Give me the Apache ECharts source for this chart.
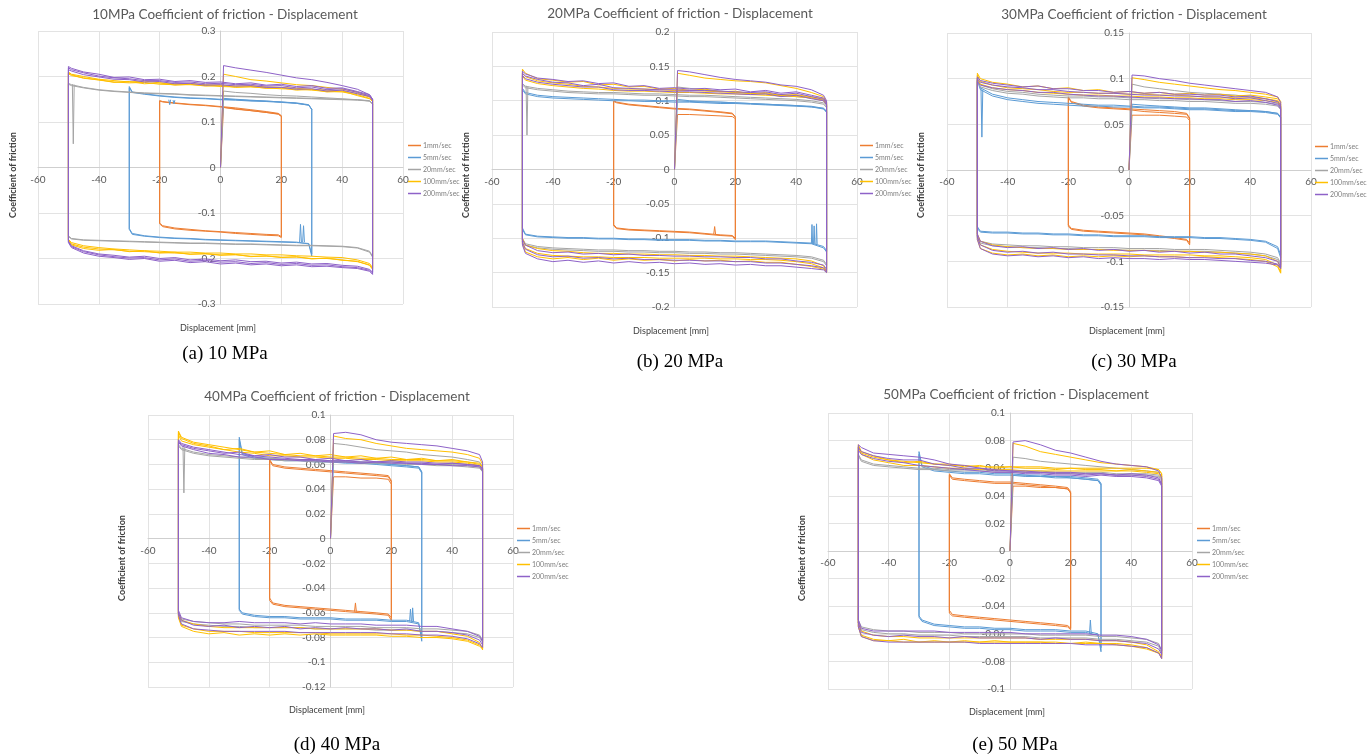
<!DOCTYPE html>
<html>
<head>
<meta charset="utf-8">
<script src="https://cdn.jsdelivr.net/npm/echarts/dist/echarts.min.js"></script>
<style>
  html, body { margin: 0; padding: 0; background: #ffffff; }
  #chart { width: 1368px; height: 756px; }
</style>
</head>
<body>
<div id="chart"></div>
<script>
// Displacement stations (mm) at which each friction branch is tabulated, per stroke amplitude
const stations50 = [-50,-49,-45,-40,-35,-30,-25,-20,-15,-10,-5,0,5,10,15,20,25,30,35,40,45,49,50];
const stations30 = [-30,-29,-25,-20,-15,-10,-5,0,5,10,15,20,25,29,30];
const stations20 = [-20,-19,-15,-10,-5,0,5,10,15,19,20];
// Stations of the very first run, which starts from rest at 0 mm
const firstRun50 = [0,1,5,10,15,20,25,30,35,40,45,49,50];
const firstRun30 = [0,1,5,10,15,20,25,29,30];
const firstRun20 = [0,1,5,10,15,19,20];

const speeds = ['1mm/sec', '5mm/sec', '20mm/sec', '100mm/sec', '200mm/sec'];
const pressures = ['10MPa', '20MPa', '30MPa', '40MPa', '50MPa'];
const captions = ['(a) 10 MPa', '(b) 20 MPa', '(c) 30 MPa', '(d) 40 MPa', '(e) 50 MPa'];
const xTickMin = -60, xTickMax = 60, xTickStep = 20;
const yTickMin = [-0.3, -0.2, -0.15, -0.12, -0.1];
const yTickMax = [0.3, 0.2, 0.15, 0.1, 0.1];
const yTickStep = [0.1, 0.05, 0.05, 0.02, 0.02];

// Stroke amplitude (mm) per panel and speed
const amp10 = [20, 30, 50, 50, 50];
const amp20 = [20, 50, 50, 50, 50];
const amp30 = [20, 50, 50, 50, 50];
const amp40 = [20, 30, 50, 50, 50];
const amp50 = [20, 30, 50, 50, 50];

// Each branch below: upper = forward stroke (-A -> +A), lower = return stroke, listed from -A to +A.

// ---------- 10 MPa ----------
const p10s1First = [0, 0.132, 0.128, 0.125, 0.121, 0.117, 0.112];
const p10s1Upper = [
  [0.147, 0.145, 0.142, 0.139, 0.137, 0.134, 0.131, 0.127, 0.123, 0.119, 0.114],
  [0.146, 0.144, 0.141, 0.138, 0.136, 0.133, 0.129, 0.125, 0.121, 0.118, 0.113]];
const p10s1Lower = [
  [-0.122, -0.128, -0.133, -0.136, -0.139, -0.141, -0.143, -0.145, -0.147, -0.148, -0.152],
  [-0.124, -0.130, -0.135, -0.138, -0.140, -0.142, -0.145, -0.147, -0.149, -0.150, -0.154]];

const p10s5First = [0, 0.152, 0.150, 0.148, 0.146, 0.144, 0.141, 0.137, 0.128];
const p10s5Upper = [
  [0.178, 0.166, 0.162, 0.158, 0.155, 0.153, 0.152, 0.150, 0.149, 0.147, 0.146, 0.144, 0.142, 0.138, 0.128],
  [0.175, 0.165, 0.161, 0.157, 0.154, 0.152, 0.151, 0.149, 0.148, 0.146, 0.145, 0.143, 0.141, 0.137, 0.127]];
const p10s5Lower = [
  [-0.134, -0.145, -0.150, -0.153, -0.155, -0.156, -0.158, -0.159, -0.160, -0.161, -0.162, -0.163, -0.164, -0.168, -0.195],
  [-0.136, -0.147, -0.151, -0.154, -0.156, -0.157, -0.159, -0.160, -0.161, -0.162, -0.163, -0.164, -0.165, -0.167, -0.190]];
const p10s5Spikes = [
  [[-17.0, 0.149], [-16.7, 0.138], [-16.4, 0.149]],
  [[-15.6, 0.148], [-15.3, 0.140], [-15.0, 0.148]],
  [[26.0, -0.164], [26.3, -0.125], [26.6, -0.164]],
  [[27.0, -0.164], [27.3, -0.128], [27.6, -0.164]]];

const p10s20First = [0, 0.168, 0.165, 0.163, 0.160, 0.158, 0.157, 0.155, 0.153, 0.151, 0.149, 0.146, 0.140];
const p10s20Upper = [
  [0.185, 0.182, 0.176, 0.171, 0.168, 0.166, 0.164, 0.163, 0.162, 0.160, 0.159, 0.158, 0.157, 0.156, 0.155, 0.154, 0.153, 0.152, 0.151, 0.150, 0.149, 0.147, 0.140],
  [0.183, 0.180, 0.175, 0.170, 0.167, 0.165, 0.163, 0.162, 0.161, 0.159, 0.158, 0.157, 0.156, 0.155, 0.154, 0.153, 0.152, 0.151, 0.150, 0.149, 0.148, 0.146, 0.139]];
const p10s20Lower = [
  [-0.150, -0.156, -0.159, -0.160, -0.161, -0.162, -0.163, -0.164, -0.165, -0.166, -0.166, -0.167, -0.168, -0.168, -0.169, -0.170, -0.171, -0.171, -0.172, -0.173, -0.176, -0.184, -0.195],
  [-0.152, -0.157, -0.160, -0.161, -0.162, -0.163, -0.164, -0.165, -0.166, -0.167, -0.167, -0.168, -0.169, -0.169, -0.170, -0.171, -0.172, -0.172, -0.173, -0.174, -0.177, -0.186, -0.197]];
const p10s20Spikes = [[[-48.7, 0.183], [-48.4, 0.052], [-48.1, 0.182]]];

const p10s100First = [0, 0.205, 0.200, 0.193, 0.190, 0.186, 0.182, 0.180, 0.176, 0.172, 0.166, 0.156, 0.148];
const p10s100Upper = [
  [0.210, 0.205, 0.200, 0.194, 0.191, 0.188, 0.190, 0.186, 0.184, 0.185, 0.182, 0.181, 0.179, 0.180, 0.177, 0.176, 0.174, 0.172, 0.170, 0.168, 0.163, 0.155, 0.148],
  [0.206, 0.202, 0.197, 0.192, 0.188, 0.186, 0.187, 0.183, 0.182, 0.182, 0.180, 0.178, 0.177, 0.177, 0.175, 0.173, 0.172, 0.170, 0.167, 0.166, 0.160, 0.152, 0.145],
  [0.208, 0.204, 0.196, 0.193, 0.187, 0.189, 0.184, 0.186, 0.181, 0.183, 0.179, 0.181, 0.176, 0.178, 0.174, 0.175, 0.170, 0.172, 0.166, 0.168, 0.158, 0.151, 0.146]];
const p10s100Lower = [
  [-0.158, -0.165, -0.172, -0.176, -0.179, -0.181, -0.183, -0.184, -0.186, -0.186, -0.188, -0.188, -0.190, -0.190, -0.192, -0.192, -0.194, -0.195, -0.197, -0.198, -0.203, -0.211, -0.220],
  [-0.160, -0.168, -0.175, -0.179, -0.181, -0.184, -0.185, -0.187, -0.188, -0.190, -0.190, -0.192, -0.192, -0.195, -0.195, -0.197, -0.197, -0.200, -0.200, -0.203, -0.207, -0.214, -0.222],
  [-0.159, -0.170, -0.178, -0.182, -0.180, -0.185, -0.183, -0.188, -0.186, -0.191, -0.189, -0.193, -0.191, -0.196, -0.194, -0.198, -0.196, -0.201, -0.199, -0.204, -0.206, -0.215, -0.224]];

const p10s200First = [0, 0.224, 0.219, 0.214, 0.209, 0.203, 0.197, 0.193, 0.187, 0.180, 0.172, 0.160, 0.150];
const p10s200Upper = [
  [0.222, 0.218, 0.210, 0.205, 0.198, 0.199, 0.193, 0.194, 0.189, 0.191, 0.187, 0.188, 0.184, 0.186, 0.181, 0.183, 0.178, 0.180, 0.174, 0.175, 0.167, 0.160, 0.150],
  [0.215, 0.212, 0.204, 0.199, 0.194, 0.193, 0.188, 0.189, 0.184, 0.185, 0.181, 0.182, 0.179, 0.180, 0.176, 0.176, 0.172, 0.173, 0.168, 0.170, 0.162, 0.156, 0.147],
  [0.219, 0.215, 0.208, 0.201, 0.197, 0.195, 0.191, 0.191, 0.187, 0.188, 0.184, 0.185, 0.182, 0.183, 0.179, 0.180, 0.175, 0.177, 0.171, 0.173, 0.165, 0.158, 0.149]];
const p10s200Lower = [
  [-0.162, -0.172, -0.183, -0.190, -0.193, -0.197, -0.195, -0.200, -0.198, -0.203, -0.201, -0.205, -0.203, -0.207, -0.206, -0.210, -0.208, -0.212, -0.211, -0.215, -0.217, -0.224, -0.230],
  [-0.165, -0.176, -0.188, -0.195, -0.198, -0.202, -0.200, -0.206, -0.204, -0.209, -0.207, -0.212, -0.210, -0.214, -0.212, -0.216, -0.214, -0.218, -0.217, -0.220, -0.222, -0.228, -0.235],
  [-0.163, -0.174, -0.185, -0.192, -0.196, -0.199, -0.198, -0.203, -0.201, -0.206, -0.204, -0.208, -0.207, -0.211, -0.209, -0.213, -0.211, -0.215, -0.214, -0.218, -0.220, -0.226, -0.232]];

// ---------- 20 MPa ----------
const p20s1First = [0, 0.080, 0.080, 0.079, 0.078, 0.077, 0.074];
const p20s1Upper = [
  [0.100, 0.098, 0.095, 0.093, 0.091, 0.089, 0.088, 0.086, 0.084, 0.082, 0.077],
  [0.099, 0.097, 0.094, 0.092, 0.090, 0.088, 0.087, 0.085, 0.083, 0.081, 0.076]];
const p20s1Lower = [
  [-0.080, -0.085, -0.087, -0.088, -0.089, -0.090, -0.091, -0.093, -0.095, -0.096, -0.100],
  [-0.082, -0.086, -0.088, -0.089, -0.090, -0.091, -0.092, -0.094, -0.096, -0.097, -0.102]];
const p20s1Spikes = [[[12.9, -0.094], [13.2, -0.083], [13.5, -0.094]]];

const p20s5First = [0, 0.102, 0.100, 0.099, 0.098, 0.097, 0.096, 0.095, 0.094, 0.093, 0.091, 0.089, 0.085];
const p20s5Upper = [
  [0.118, 0.112, 0.108, 0.106, 0.105, 0.104, 0.103, 0.102, 0.101, 0.101, 0.100, 0.100, 0.099, 0.098, 0.098, 0.097, 0.096, 0.095, 0.094, 0.093, 0.092, 0.089, 0.084],
  [0.116, 0.110, 0.106, 0.104, 0.103, 0.102, 0.101, 0.100, 0.100, 0.099, 0.099, 0.098, 0.098, 0.097, 0.096, 0.096, 0.095, 0.094, 0.093, 0.092, 0.091, 0.088, 0.083]];
const p20s5Lower = [
  [-0.085, -0.094, -0.097, -0.098, -0.099, -0.099, -0.100, -0.100, -0.101, -0.101, -0.102, -0.102, -0.102, -0.103, -0.103, -0.104, -0.104, -0.104, -0.105, -0.106, -0.107, -0.112, -0.118],
  [-0.087, -0.095, -0.098, -0.099, -0.100, -0.100, -0.101, -0.101, -0.102, -0.102, -0.103, -0.103, -0.103, -0.104, -0.104, -0.105, -0.105, -0.105, -0.106, -0.107, -0.108, -0.114, -0.120]];
const p20s5Spikes = [
  [[45.0, -0.108], [45.2, -0.080], [45.4, -0.108]],
  [[45.7, -0.108], [45.9, -0.082], [46.1, -0.108]],
  [[46.5, -0.109], [46.7, -0.079], [46.9, -0.109]]];

const p20s20First = [0, 0.120, 0.118, 0.116, 0.114, 0.112, 0.111, 0.110, 0.108, 0.106, 0.104, 0.100, 0.094];
const p20s20Upper = [
  [0.125, 0.121, 0.118, 0.116, 0.114, 0.113, 0.112, 0.112, 0.111, 0.110, 0.110, 0.109, 0.108, 0.108, 0.107, 0.106, 0.105, 0.104, 0.103, 0.102, 0.100, 0.097, 0.092],
  [0.123, 0.119, 0.116, 0.114, 0.112, 0.111, 0.110, 0.110, 0.109, 0.108, 0.108, 0.107, 0.106, 0.106, 0.105, 0.104, 0.103, 0.102, 0.101, 0.100, 0.098, 0.095, 0.090]];
const p20s20Lower = [
  [-0.100, -0.108, -0.112, -0.114, -0.115, -0.116, -0.117, -0.117, -0.118, -0.118, -0.119, -0.119, -0.120, -0.120, -0.121, -0.121, -0.122, -0.123, -0.124, -0.125, -0.127, -0.132, -0.138],
  [-0.102, -0.110, -0.114, -0.116, -0.117, -0.118, -0.119, -0.119, -0.120, -0.120, -0.121, -0.121, -0.122, -0.122, -0.123, -0.123, -0.124, -0.125, -0.126, -0.127, -0.129, -0.134, -0.140]];
const p20s20Spikes = [[[-48.8, 0.122], [-48.5, 0.050], [-48.2, 0.121]]];

const p20s100First = [0, 0.140, 0.137, 0.133, 0.131, 0.129, 0.128, 0.126, 0.122, 0.118, 0.112, 0.106, 0.098];
const p20s100Upper = [
  [0.140, 0.135, 0.129, 0.126, 0.124, 0.121, 0.120, 0.118, 0.117, 0.117, 0.116, 0.115, 0.115, 0.114, 0.113, 0.112, 0.111, 0.110, 0.109, 0.108, 0.106, 0.103, 0.097],
  [0.136, 0.130, 0.125, 0.122, 0.120, 0.118, 0.117, 0.115, 0.114, 0.114, 0.113, 0.112, 0.112, 0.111, 0.110, 0.110, 0.109, 0.108, 0.107, 0.106, 0.104, 0.101, 0.095],
  [0.146, 0.140, 0.132, 0.130, 0.127, 0.128, 0.123, 0.124, 0.120, 0.121, 0.117, 0.118, 0.115, 0.117, 0.113, 0.114, 0.110, 0.112, 0.107, 0.109, 0.104, 0.100, 0.094]];
const p20s100Lower = [
  [-0.100, -0.110, -0.115, -0.118, -0.119, -0.121, -0.122, -0.122, -0.123, -0.123, -0.124, -0.124, -0.125, -0.125, -0.126, -0.126, -0.127, -0.128, -0.129, -0.130, -0.133, -0.140, -0.148],
  [-0.105, -0.115, -0.122, -0.125, -0.126, -0.127, -0.127, -0.128, -0.128, -0.128, -0.129, -0.129, -0.129, -0.129, -0.130, -0.130, -0.131, -0.131, -0.132, -0.134, -0.137, -0.143, -0.150],
  [-0.108, -0.120, -0.127, -0.130, -0.128, -0.131, -0.129, -0.132, -0.130, -0.132, -0.131, -0.133, -0.131, -0.133, -0.132, -0.134, -0.133, -0.135, -0.135, -0.138, -0.141, -0.145, -0.149]];

const p20s200First = [0, 0.144, 0.142, 0.138, 0.134, 0.131, 0.129, 0.127, 0.123, 0.121, 0.116, 0.108, 0.100];
const p20s200Upper = [
  [0.140, 0.136, 0.131, 0.127, 0.126, 0.122, 0.124, 0.119, 0.118, 0.117, 0.116, 0.116, 0.115, 0.115, 0.114, 0.113, 0.112, 0.113, 0.109, 0.111, 0.106, 0.102, 0.096],
  [0.137, 0.132, 0.127, 0.124, 0.122, 0.120, 0.120, 0.116, 0.115, 0.115, 0.114, 0.113, 0.113, 0.112, 0.111, 0.110, 0.109, 0.110, 0.106, 0.108, 0.103, 0.100, 0.094],
  [0.143, 0.139, 0.133, 0.131, 0.128, 0.129, 0.125, 0.126, 0.121, 0.122, 0.118, 0.119, 0.117, 0.118, 0.116, 0.117, 0.113, 0.115, 0.111, 0.113, 0.108, 0.104, 0.098]];
const p20s200Lower = [
  [-0.102, -0.110, -0.118, -0.121, -0.120, -0.123, -0.122, -0.124, -0.123, -0.125, -0.125, -0.126, -0.126, -0.127, -0.127, -0.128, -0.128, -0.130, -0.130, -0.133, -0.135, -0.139, -0.145],
  [-0.106, -0.116, -0.124, -0.127, -0.126, -0.129, -0.128, -0.130, -0.129, -0.131, -0.131, -0.132, -0.132, -0.133, -0.133, -0.134, -0.134, -0.136, -0.136, -0.138, -0.140, -0.143, -0.148],
  [-0.110, -0.122, -0.130, -0.134, -0.132, -0.135, -0.133, -0.136, -0.134, -0.136, -0.135, -0.137, -0.136, -0.138, -0.137, -0.139, -0.138, -0.140, -0.140, -0.142, -0.144, -0.146, -0.150]];

// ---------- 30 MPa ----------
const p30s1First = [0, 0.060, 0.060, 0.060, 0.059, 0.058, 0.054];
const p30s1Upper = [
  [0.080, 0.075, 0.071, 0.069, 0.068, 0.067, 0.066, 0.065, 0.064, 0.062, 0.057],
  [0.079, 0.074, 0.070, 0.068, 0.067, 0.066, 0.064, 0.063, 0.062, 0.061, 0.056]];
const p30s1Lower = [
  [-0.060, -0.064, -0.066, -0.067, -0.068, -0.069, -0.070, -0.072, -0.074, -0.076, -0.080],
  [-0.062, -0.065, -0.067, -0.068, -0.069, -0.070, -0.071, -0.073, -0.075, -0.077, -0.082]];

const p30s5First = [0, 0.072, 0.071, 0.070, 0.069, 0.068, 0.068, 0.067, 0.066, 0.065, 0.064, 0.062, 0.058];
const p30s5Upper = [
  [0.100, 0.090, 0.083, 0.079, 0.077, 0.075, 0.074, 0.073, 0.072, 0.071, 0.071, 0.070, 0.069, 0.069, 0.068, 0.067, 0.067, 0.066, 0.065, 0.065, 0.064, 0.062, 0.058],
  [0.098, 0.088, 0.081, 0.077, 0.075, 0.073, 0.072, 0.071, 0.070, 0.070, 0.069, 0.069, 0.068, 0.068, 0.067, 0.066, 0.066, 0.065, 0.064, 0.064, 0.063, 0.061, 0.057]];
const p30s5Lower = [
  [-0.062, -0.067, -0.068, -0.068, -0.069, -0.069, -0.070, -0.070, -0.071, -0.071, -0.072, -0.072, -0.072, -0.073, -0.073, -0.073, -0.074, -0.074, -0.075, -0.076, -0.078, -0.084, -0.093],
  [-0.064, -0.068, -0.069, -0.069, -0.070, -0.070, -0.071, -0.071, -0.072, -0.072, -0.073, -0.073, -0.073, -0.074, -0.074, -0.074, -0.075, -0.075, -0.076, -0.077, -0.079, -0.086, -0.096]];
const p30s5Spikes = [[[-48.8, 0.090], [-48.5, 0.036], [-48.2, 0.088]]];

const p30s20First = [0, 0.094, 0.091, 0.089, 0.087, 0.085, 0.084, 0.083, 0.082, 0.080, 0.078, 0.075, 0.070];
const p30s20Upper = [
  [0.098, 0.093, 0.089, 0.086, 0.085, 0.083, 0.082, 0.081, 0.081, 0.080, 0.080, 0.079, 0.079, 0.078, 0.078, 0.077, 0.077, 0.076, 0.075, 0.075, 0.074, 0.072, 0.068],
  [0.096, 0.091, 0.087, 0.084, 0.083, 0.081, 0.080, 0.079, 0.079, 0.078, 0.078, 0.077, 0.077, 0.076, 0.076, 0.075, 0.075, 0.074, 0.073, 0.073, 0.072, 0.070, 0.066]];
const p30s20Lower = [
  [-0.072, -0.078, -0.081, -0.082, -0.083, -0.083, -0.084, -0.084, -0.085, -0.085, -0.085, -0.086, -0.086, -0.086, -0.087, -0.087, -0.087, -0.088, -0.089, -0.090, -0.092, -0.096, -0.102],
  [-0.074, -0.080, -0.083, -0.084, -0.085, -0.085, -0.086, -0.086, -0.087, -0.087, -0.087, -0.088, -0.088, -0.088, -0.089, -0.089, -0.089, -0.090, -0.091, -0.092, -0.094, -0.098, -0.104]];

const p30s100First = [0, 0.101, 0.099, 0.096, 0.094, 0.092, 0.090, 0.088, 0.087, 0.085, 0.083, 0.080, 0.075];
const p30s100Upper = [
  [0.104, 0.097, 0.093, 0.090, 0.089, 0.088, 0.086, 0.085, 0.085, 0.084, 0.084, 0.083, 0.083, 0.082, 0.082, 0.081, 0.080, 0.080, 0.079, 0.079, 0.078, 0.076, 0.072],
  [0.100, 0.094, 0.090, 0.088, 0.087, 0.085, 0.084, 0.083, 0.082, 0.082, 0.081, 0.081, 0.080, 0.080, 0.079, 0.079, 0.078, 0.078, 0.077, 0.077, 0.076, 0.074, 0.070],
  [0.106, 0.100, 0.096, 0.094, 0.091, 0.092, 0.089, 0.090, 0.087, 0.088, 0.085, 0.086, 0.084, 0.085, 0.083, 0.084, 0.082, 0.083, 0.081, 0.082, 0.080, 0.078, 0.074]];
const p30s100Lower = [
  [-0.072, -0.082, -0.087, -0.089, -0.090, -0.091, -0.091, -0.091, -0.092, -0.092, -0.092, -0.092, -0.093, -0.093, -0.093, -0.093, -0.094, -0.094, -0.095, -0.096, -0.098, -0.104, -0.112],
  [-0.070, -0.078, -0.082, -0.084, -0.085, -0.086, -0.086, -0.087, -0.087, -0.087, -0.088, -0.088, -0.088, -0.089, -0.089, -0.089, -0.090, -0.090, -0.091, -0.092, -0.094, -0.100, -0.108],
  [-0.076, -0.086, -0.091, -0.093, -0.092, -0.094, -0.093, -0.095, -0.094, -0.095, -0.094, -0.095, -0.094, -0.095, -0.095, -0.096, -0.095, -0.096, -0.097, -0.098, -0.100, -0.106, -0.113]];

const p30s200First = [0, 0.104, 0.103, 0.100, 0.098, 0.095, 0.093, 0.091, 0.089, 0.087, 0.085, 0.080, 0.074];
const p30s200Upper = [
  [0.100, 0.096, 0.093, 0.091, 0.090, 0.088, 0.088, 0.086, 0.085, 0.084, 0.084, 0.083, 0.082, 0.082, 0.081, 0.081, 0.080, 0.080, 0.078, 0.079, 0.076, 0.073, 0.069],
  [0.097, 0.093, 0.090, 0.088, 0.087, 0.085, 0.085, 0.083, 0.082, 0.081, 0.081, 0.080, 0.079, 0.079, 0.078, 0.078, 0.077, 0.077, 0.075, 0.076, 0.074, 0.071, 0.067],
  [0.102, 0.098, 0.095, 0.093, 0.091, 0.092, 0.089, 0.089, 0.087, 0.087, 0.085, 0.086, 0.084, 0.085, 0.083, 0.083, 0.082, 0.082, 0.080, 0.081, 0.078, 0.075, 0.071]];
const p30s200Lower = [
  [-0.070, -0.078, -0.083, -0.085, -0.084, -0.086, -0.085, -0.087, -0.086, -0.088, -0.087, -0.089, -0.088, -0.090, -0.089, -0.091, -0.090, -0.092, -0.092, -0.094, -0.096, -0.100, -0.106],
  [-0.073, -0.082, -0.088, -0.090, -0.089, -0.091, -0.090, -0.092, -0.092, -0.093, -0.093, -0.094, -0.094, -0.095, -0.095, -0.096, -0.096, -0.097, -0.097, -0.099, -0.100, -0.103, -0.108],
  [-0.076, -0.086, -0.092, -0.094, -0.093, -0.095, -0.094, -0.096, -0.095, -0.097, -0.096, -0.097, -0.097, -0.098, -0.097, -0.098, -0.098, -0.099, -0.100, -0.101, -0.102, -0.104, -0.107]];

// ---------- 40 MPa ----------
const p40s1First = [0, 0.050, 0.050, 0.049, 0.049, 0.048, 0.044];
const p40s1Upper = [
  [0.064, 0.060, 0.058, 0.057, 0.056, 0.055, 0.054, 0.053, 0.052, 0.051, 0.047],
  [0.063, 0.059, 0.057, 0.056, 0.055, 0.054, 0.053, 0.052, 0.051, 0.050, 0.046]];
const p40s1Lower = [
  [-0.048, -0.052, -0.054, -0.055, -0.056, -0.057, -0.058, -0.059, -0.060, -0.061, -0.064],
  [-0.050, -0.053, -0.055, -0.056, -0.057, -0.058, -0.059, -0.060, -0.061, -0.062, -0.066]];
const p40s1Spikes = [[[7.9, -0.059], [8.2, -0.052], [8.5, -0.059]]];

const p40s5First = [0, 0.062, 0.062, 0.061, 0.061, 0.060, 0.059, 0.058, 0.054];
const p40s5Upper = [
  [0.082, 0.069, 0.066, 0.065, 0.064, 0.064, 0.063, 0.063, 0.062, 0.062, 0.061, 0.060, 0.059, 0.058, 0.054],
  [0.080, 0.068, 0.065, 0.064, 0.063, 0.063, 0.062, 0.062, 0.061, 0.061, 0.060, 0.059, 0.058, 0.057, 0.053]];
const p40s5Lower = [
  [-0.057, -0.060, -0.062, -0.063, -0.063, -0.064, -0.064, -0.064, -0.065, -0.065, -0.065, -0.066, -0.066, -0.068, -0.083],
  [-0.058, -0.061, -0.063, -0.064, -0.064, -0.065, -0.065, -0.065, -0.066, -0.066, -0.066, -0.067, -0.067, -0.069, -0.080]];
const p40s5Spikes = [
  [[26.0, -0.067], [26.3, -0.057], [26.6, -0.067]],
  [[26.8, -0.067], [27.0, -0.056], [27.3, -0.067]]];

const p40s20First = [0, 0.077, 0.076, 0.074, 0.072, 0.071, 0.070, 0.068, 0.067, 0.066, 0.064, 0.062, 0.058];
const p40s20Upper = [
  [0.076, 0.073, 0.070, 0.068, 0.067, 0.066, 0.065, 0.065, 0.064, 0.064, 0.063, 0.063, 0.063, 0.062, 0.062, 0.062, 0.061, 0.061, 0.060, 0.060, 0.059, 0.058, 0.055],
  [0.075, 0.072, 0.069, 0.067, 0.066, 0.065, 0.064, 0.064, 0.063, 0.063, 0.062, 0.062, 0.062, 0.061, 0.061, 0.061, 0.060, 0.060, 0.059, 0.059, 0.058, 0.057, 0.054]];
const p40s20Lower = [
  [-0.060, -0.065, -0.067, -0.068, -0.069, -0.069, -0.070, -0.070, -0.070, -0.070, -0.071, -0.071, -0.071, -0.071, -0.072, -0.072, -0.072, -0.073, -0.073, -0.074, -0.075, -0.078, -0.082],
  [-0.062, -0.067, -0.069, -0.070, -0.071, -0.071, -0.072, -0.072, -0.072, -0.072, -0.073, -0.073, -0.073, -0.073, -0.074, -0.074, -0.074, -0.075, -0.075, -0.076, -0.077, -0.080, -0.084]];
const p40s20Spikes = [[[-48.5, 0.075], [-48.2, 0.037], [-47.9, 0.074]]];

const p40s100First = [0, 0.083, 0.081, 0.080, 0.077, 0.075, 0.073, 0.072, 0.071, 0.070, 0.068, 0.065, 0.060];
const p40s100Upper = [
  [0.087, 0.082, 0.078, 0.076, 0.074, 0.072, 0.070, 0.069, 0.068, 0.067, 0.067, 0.066, 0.066, 0.065, 0.065, 0.064, 0.064, 0.064, 0.063, 0.063, 0.062, 0.060, 0.057],
  [0.084, 0.079, 0.076, 0.074, 0.072, 0.070, 0.069, 0.067, 0.067, 0.066, 0.066, 0.065, 0.065, 0.064, 0.064, 0.063, 0.063, 0.063, 0.062, 0.062, 0.061, 0.059, 0.056],
  [0.086, 0.081, 0.077, 0.075, 0.072, 0.073, 0.070, 0.071, 0.068, 0.069, 0.067, 0.068, 0.066, 0.067, 0.065, 0.066, 0.064, 0.065, 0.063, 0.064, 0.062, 0.061, 0.058]];
const p40s100Lower = [
  [-0.060, -0.066, -0.069, -0.071, -0.072, -0.072, -0.072, -0.072, -0.072, -0.072, -0.073, -0.073, -0.073, -0.073, -0.073, -0.074, -0.074, -0.075, -0.075, -0.077, -0.079, -0.084, -0.090],
  [-0.063, -0.070, -0.073, -0.075, -0.075, -0.075, -0.076, -0.076, -0.076, -0.076, -0.076, -0.077, -0.077, -0.077, -0.077, -0.077, -0.078, -0.078, -0.079, -0.080, -0.082, -0.086, -0.088],
  [-0.064, -0.071, -0.075, -0.077, -0.076, -0.078, -0.077, -0.078, -0.077, -0.078, -0.077, -0.078, -0.078, -0.078, -0.078, -0.079, -0.079, -0.080, -0.080, -0.081, -0.083, -0.087, -0.089]];

const p40s200First = [0, 0.085, 0.086, 0.084, 0.080, 0.078, 0.077, 0.076, 0.075, 0.073, 0.071, 0.068, 0.062];
const p40s200Upper = [
  [0.080, 0.077, 0.074, 0.072, 0.070, 0.068, 0.067, 0.066, 0.065, 0.064, 0.064, 0.063, 0.063, 0.062, 0.062, 0.062, 0.061, 0.061, 0.060, 0.061, 0.060, 0.059, 0.057],
  [0.078, 0.075, 0.072, 0.069, 0.068, 0.066, 0.066, 0.064, 0.064, 0.063, 0.063, 0.062, 0.062, 0.061, 0.062, 0.061, 0.061, 0.060, 0.060, 0.059, 0.059, 0.058, 0.055],
  [0.079, 0.076, 0.073, 0.071, 0.069, 0.070, 0.067, 0.068, 0.066, 0.066, 0.064, 0.065, 0.063, 0.064, 0.062, 0.063, 0.062, 0.062, 0.061, 0.061, 0.060, 0.059, 0.056]];
const p40s200Lower = [
  [-0.058, -0.064, -0.067, -0.068, -0.068, -0.067, -0.068, -0.068, -0.068, -0.069, -0.068, -0.069, -0.069, -0.069, -0.070, -0.070, -0.070, -0.071, -0.071, -0.073, -0.075, -0.079, -0.083],
  [-0.062, -0.069, -0.073, -0.074, -0.075, -0.075, -0.075, -0.075, -0.075, -0.076, -0.076, -0.076, -0.076, -0.076, -0.076, -0.077, -0.077, -0.078, -0.078, -0.079, -0.081, -0.085, -0.088],
  [-0.060, -0.066, -0.070, -0.071, -0.070, -0.072, -0.071, -0.072, -0.071, -0.073, -0.072, -0.073, -0.072, -0.073, -0.073, -0.074, -0.073, -0.075, -0.075, -0.076, -0.078, -0.082, -0.086]];

// ---------- 50 MPa ----------
const p50s1First = [0, 0.047, 0.047, 0.046, 0.046, 0.045, 0.042];
const p50s1Upper = [
  [0.056, 0.053, 0.052, 0.051, 0.050, 0.050, 0.049, 0.048, 0.047, 0.046, 0.043],
  [0.055, 0.052, 0.051, 0.050, 0.049, 0.049, 0.048, 0.047, 0.046, 0.045, 0.042]];
const p50s1Lower = [
  [-0.043, -0.046, -0.047, -0.048, -0.049, -0.050, -0.051, -0.052, -0.053, -0.054, -0.056],
  [-0.045, -0.047, -0.048, -0.049, -0.050, -0.051, -0.052, -0.053, -0.054, -0.055, -0.057]];

const p50s5First = [0, 0.055, 0.055, 0.054, 0.054, 0.053, 0.052, 0.051, 0.048];
const p50s5Upper = [
  [0.072, 0.062, 0.059, 0.058, 0.057, 0.057, 0.056, 0.056, 0.055, 0.055, 0.054, 0.054, 0.053, 0.052, 0.049],
  [0.070, 0.061, 0.058, 0.057, 0.056, 0.056, 0.055, 0.055, 0.054, 0.054, 0.053, 0.053, 0.052, 0.051, 0.048]];
const p50s5Lower = [
  [-0.047, -0.050, -0.053, -0.054, -0.055, -0.055, -0.056, -0.056, -0.057, -0.057, -0.057, -0.058, -0.058, -0.060, -0.073],
  [-0.048, -0.051, -0.054, -0.055, -0.056, -0.056, -0.057, -0.057, -0.058, -0.058, -0.058, -0.059, -0.059, -0.061, -0.070]];
const p50s5Spikes = [[[26.2, -0.060], [26.5, -0.050], [26.8, -0.060]]];

const p50s20First = [0, 0.068, 0.067, 0.065, 0.064, 0.063, 0.062, 0.061, 0.060, 0.059, 0.058, 0.057, 0.054];
const p50s20Upper = [
  [0.070, 0.066, 0.063, 0.062, 0.061, 0.060, 0.060, 0.059, 0.059, 0.059, 0.058, 0.058, 0.058, 0.058, 0.057, 0.057, 0.057, 0.057, 0.056, 0.056, 0.056, 0.055, 0.052],
  [0.069, 0.065, 0.062, 0.061, 0.060, 0.059, 0.059, 0.058, 0.058, 0.058, 0.057, 0.057, 0.057, 0.057, 0.056, 0.056, 0.056, 0.056, 0.055, 0.055, 0.055, 0.054, 0.051]];
const p50s20Lower = [
  [-0.050, -0.055, -0.057, -0.058, -0.058, -0.059, -0.059, -0.059, -0.060, -0.060, -0.060, -0.060, -0.060, -0.061, -0.061, -0.061, -0.061, -0.062, -0.062, -0.063, -0.064, -0.067, -0.072],
  [-0.052, -0.057, -0.059, -0.060, -0.060, -0.061, -0.061, -0.061, -0.062, -0.062, -0.062, -0.062, -0.062, -0.063, -0.063, -0.063, -0.063, -0.064, -0.064, -0.065, -0.066, -0.069, -0.074]];

const p50s100First = [0, 0.078, 0.076, 0.072, 0.070, 0.068, 0.066, 0.064, 0.063, 0.062, 0.061, 0.059, 0.056];
const p50s100Upper = [
  [0.077, 0.072, 0.069, 0.066, 0.065, 0.064, 0.063, 0.062, 0.062, 0.061, 0.061, 0.061, 0.061, 0.061, 0.060, 0.060, 0.060, 0.060, 0.060, 0.060, 0.060, 0.059, 0.056],
  [0.075, 0.070, 0.066, 0.064, 0.062, 0.062, 0.061, 0.060, 0.060, 0.059, 0.059, 0.059, 0.058, 0.058, 0.058, 0.058, 0.058, 0.058, 0.058, 0.058, 0.057, 0.056, 0.053],
  [0.076, 0.071, 0.068, 0.066, 0.064, 0.065, 0.063, 0.063, 0.061, 0.062, 0.060, 0.061, 0.060, 0.060, 0.059, 0.060, 0.059, 0.059, 0.058, 0.059, 0.058, 0.057, 0.054]];
const p50s100Lower = [
  [-0.052, -0.058, -0.061, -0.062, -0.062, -0.063, -0.063, -0.063, -0.063, -0.063, -0.063, -0.063, -0.063, -0.064, -0.064, -0.064, -0.064, -0.065, -0.065, -0.066, -0.068, -0.073, -0.078],
  [-0.055, -0.062, -0.065, -0.065, -0.066, -0.066, -0.066, -0.066, -0.066, -0.066, -0.066, -0.066, -0.066, -0.066, -0.067, -0.067, -0.067, -0.067, -0.068, -0.069, -0.071, -0.074, -0.076],
  [-0.054, -0.061, -0.064, -0.065, -0.064, -0.066, -0.065, -0.066, -0.065, -0.066, -0.065, -0.066, -0.066, -0.066, -0.066, -0.067, -0.066, -0.067, -0.067, -0.068, -0.070, -0.074, -0.077]];

const p50s200First = [0, 0.079, 0.080, 0.077, 0.073, 0.071, 0.068, 0.065, 0.063, 0.062, 0.061, 0.058, 0.053];
const p50s200Upper = [
  [0.077, 0.075, 0.071, 0.070, 0.069, 0.068, 0.066, 0.063, 0.062, 0.060, 0.059, 0.058, 0.058, 0.057, 0.057, 0.057, 0.056, 0.056, 0.055, 0.056, 0.055, 0.053, 0.049],
  [0.073, 0.070, 0.067, 0.065, 0.064, 0.062, 0.061, 0.060, 0.059, 0.058, 0.057, 0.057, 0.056, 0.056, 0.055, 0.055, 0.054, 0.055, 0.054, 0.054, 0.053, 0.051, 0.047],
  [0.075, 0.072, 0.069, 0.067, 0.066, 0.066, 0.063, 0.062, 0.060, 0.060, 0.058, 0.058, 0.057, 0.057, 0.056, 0.056, 0.055, 0.056, 0.055, 0.055, 0.054, 0.052, 0.048]];
const p50s200Lower = [
  [-0.050, -0.056, -0.058, -0.058, -0.058, -0.058, -0.058, -0.059, -0.059, -0.059, -0.059, -0.059, -0.060, -0.060, -0.060, -0.060, -0.060, -0.061, -0.061, -0.062, -0.064, -0.068, -0.072],
  [-0.055, -0.062, -0.065, -0.066, -0.066, -0.066, -0.066, -0.066, -0.066, -0.067, -0.067, -0.067, -0.067, -0.067, -0.067, -0.067, -0.068, -0.068, -0.068, -0.069, -0.070, -0.074, -0.078],
  [-0.052, -0.059, -0.061, -0.062, -0.061, -0.062, -0.062, -0.063, -0.062, -0.063, -0.063, -0.063, -0.063, -0.064, -0.063, -0.064, -0.064, -0.065, -0.065, -0.066, -0.067, -0.071, -0.075]];

// ---------- assembly ----------
const stationsByAmp = { 20: stations20, 30: stations30, 50: stations50 };
const firstRunByAmp = { 20: firstRun20, 30: firstRun30, 50: firstRun50 };

const panelRuns = [
  { amps: amp10, first: [p10s1First, p10s5First, p10s20First, p10s100First, p10s200First],
    upper: [p10s1Upper, p10s5Upper, p10s20Upper, p10s100Upper, p10s200Upper],
    lower: [p10s1Lower, p10s5Lower, p10s20Lower, p10s100Lower, p10s200Lower],
    spikes: [[], p10s5Spikes, p10s20Spikes, [], []] },
  { amps: amp20, first: [p20s1First, p20s5First, p20s20First, p20s100First, p20s200First],
    upper: [p20s1Upper, p20s5Upper, p20s20Upper, p20s100Upper, p20s200Upper],
    lower: [p20s1Lower, p20s5Lower, p20s20Lower, p20s100Lower, p20s200Lower],
    spikes: [p20s1Spikes, p20s5Spikes, p20s20Spikes, [], []] },
  { amps: amp30, first: [p30s1First, p30s5First, p30s20First, p30s100First, p30s200First],
    upper: [p30s1Upper, p30s5Upper, p30s20Upper, p30s100Upper, p30s200Upper],
    lower: [p30s1Lower, p30s5Lower, p30s20Lower, p30s100Lower, p30s200Lower],
    spikes: [[], p30s5Spikes, [], [], []] },
  { amps: amp40, first: [p40s1First, p40s5First, p40s20First, p40s100First, p40s200First],
    upper: [p40s1Upper, p40s5Upper, p40s20Upper, p40s100Upper, p40s200Upper],
    lower: [p40s1Lower, p40s5Lower, p40s20Lower, p40s100Lower, p40s200Lower],
    spikes: [p40s1Spikes, p40s5Spikes, p40s20Spikes, [], []] },
  { amps: amp50, first: [p50s1First, p50s5First, p50s20First, p50s100First, p50s200First],
    upper: [p50s1Upper, p50s5Upper, p50s20Upper, p50s100Upper, p50s200Upper],
    lower: [p50s1Lower, p50s5Lower, p50s20Lower, p50s100Lower, p50s200Lower],
    spikes: [[], p50s5Spikes, [], [], []] }
];

// Walk the test path: first run from rest, then alternating return / forward strokes
function buildPath(amp, first, upper, lower, spikes) {
  const st = stationsByAmp[amp];
  const fr = firstRunByAmp[amp];
  const pts = fr.map((x, i) => [x, first[i]]);
  for (let c = 0; c < upper.length; c++) {
    for (let i = st.length - 1; i >= 0; i--) pts.push([st[i], lower[c][i]]);
    for (let i = 0; i < st.length; i++) pts.push([st[i], upper[c][i]]);
  }
  spikes.forEach(seg => {
    pts.push(['-', '-']);
    seg.forEach(p => pts.push(p));
  });
  return pts;
}

// ---------- styling / layout ----------
const lineColors = ['#ED7D31', '#5B9BD5', '#A5A5A5', '#FFC000', '#8E62C8'];
const gridBoxes = [
  { left: 38, top: 31, width: 365, height: 273 },
  { left: 492, top: 32, width: 365, height: 275 },
  { left: 947, top: 33, width: 364, height: 274 },
  { left: 148, top: 415, width: 365, height: 272 },
  { left: 828, top: 413, width: 364, height: 276 }
];
const titlePos = [[225, 15], [680, 14], [1134, 15], [337, 397], [1016, 395]];
const yNamePos = [[13, 175], [466, 175], [921, 175], [122, 558], [802, 558]];
const xNamePos = [[218, 328], [671, 331], [1127, 331], [327, 710], [1007, 712]];
const captionPos = [[225, 354], [680, 362], [1134, 362], [337, 745], [1015, 745]];
const legendPos = [[408, 142], [860, 142], [1315, 143], [517, 525], [1197, 525]];

const uiFont = 'Lato, "Open Sans", sans-serif';
const axisGray = '#CFCFCF';
const gridGray = '#E3E3E3';

// Axes cross at the origin: shift each axis from the plot edge to the zero position
function zeroShiftX(i) { // vertical offset of the x axis (moves the bottom axis up)
  const g = gridBoxes[i];
  return -g.height * (0 - yTickMin[i]) / (yTickMax[i] - yTickMin[i]);
}
function zeroShiftY(i) { // horizontal offset of the y axis (moves the left axis right)
  const g = gridBoxes[i];
  return -g.width * (0 - xTickMin) / (xTickMax - xTickMin);
}

const option = {
  backgroundColor: '#ffffff',
  animation: false,
  textStyle: { fontFamily: uiFont },
  grid: gridBoxes.map(g => Object.assign({ containLabel: false }, g)),
  xAxis: gridBoxes.map((g, i) => ({
    type: 'value', gridIndex: i, min: xTickMin, max: xTickMax, interval: xTickStep,
    position: 'bottom', offset: zeroShiftX(i),
    axisLine: { show: true, onZero: false, lineStyle: { color: axisGray, width: 1 } },
    axisTick: { show: false },
    axisLabel: { fontSize: 10, color: '#595959', margin: 7, fontFamily: uiFont },
    splitLine: { show: true, lineStyle: { color: gridGray, width: 1 } }
  })),
  yAxis: gridBoxes.map((g, i) => ({
    type: 'value', gridIndex: i, min: yTickMin[i], max: yTickMax[i], interval: yTickStep[i],
    position: 'left', offset: zeroShiftY(i),
    axisLine: { show: true, onZero: false, lineStyle: { color: axisGray, width: 1 } },
    axisTick: { show: false },
    axisLabel: { fontSize: 10, color: '#595959', margin: 5, fontFamily: uiFont },
    splitLine: { show: true, lineStyle: { color: gridGray, width: 1 } }
  })),
  legend: legendPos.map(p => ({
    left: p[0], top: p[1], orient: 'vertical', data: speeds, padding: 0,
    icon: 'rect', itemWidth: 13, itemHeight: 1.5, itemGap: 5, selectedMode: false,
    textStyle: { fontSize: 7, color: '#7F7F7F', fontFamily: uiFont, padding: [0, 0, 0, -3] }
  })),
  series: [],
  graphic: []
};

panelRuns.forEach((panel, pi) => {
  speeds.forEach((name, si) => {
    option.series.push({
      name: name, type: 'line', xAxisIndex: pi, yAxisIndex: pi,
      data: buildPath(panel.amps[si], panel.first[si], panel.upper[si], panel.lower[si], panel.spikes[si]),
      symbol: 'none', showSymbol: false, connectNulls: false, silent: true,
      color: lineColors[si],
      itemStyle: { color: lineColors[si] },
      lineStyle: { width: 1, color: lineColors[si] }
    });
  });
});

function label(x, y, text, font, fill, rotation) {
  return {
    type: 'text', x: x, y: y, rotation: rotation || 0, silent: true,
    style: { text: text, font: font, fill: fill, align: 'center', verticalAlign: 'middle',
             textAlign: 'center', textVerticalAlign: 'middle' }
  };
}

pressures.forEach((p, i) => {
  option.graphic.push(label(titlePos[i][0], titlePos[i][1], p + ' Coefficient of friction - Displacement',
    '13.5px ' + uiFont, '#595959'));
  option.graphic.push(label(yNamePos[i][0], yNamePos[i][1], 'Coefficient of friction',
    'bold 9px ' + uiFont, '#404040', Math.PI / 2));
  option.graphic.push(label(xNamePos[i][0], xNamePos[i][1], 'Displacement [mm]',
    '9px ' + uiFont, '#404040'));
  option.graphic.push(label(captionPos[i][0], captionPos[i][1], captions[i],
    '19px "Liberation Serif", "Times New Roman", serif', '#000000'));
});

const chart = echarts.init(document.getElementById('chart'), null, { renderer: 'canvas' });
chart.setOption(option);
</script>
</body>
</html>
